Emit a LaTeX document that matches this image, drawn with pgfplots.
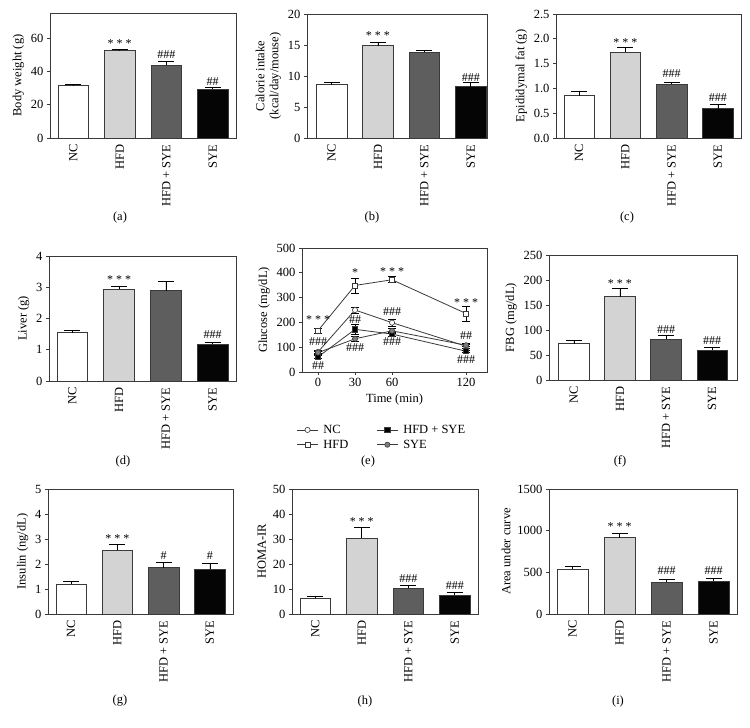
\documentclass[border=0pt]{standalone}
\usepackage{pgfplots}
\pgfplotsset{compat=1.18}
\usepackage{fontspec}
\setmainfont{Liberation Serif}

\definecolor{fillNC}{HTML}{FFFFFF}
\definecolor{fillHFD}{HTML}{D3D3D3}
\definecolor{fillMIX}{HTML}{5E5E5E}
\definecolor{fillSYE}{HTML}{050505}
\definecolor{edge}{HTML}{3A3A3A}

\pgfplotsset{
  panel/.style={
    scale only axis,
    axis line style={edge, line width=0.8pt},
    tick align=outside, tick pos=left,
    major tick length=3pt,
    tick style={edge, line width=0.7pt},
    tick label style={font=\fontsize{12.5}{14}\selectfont},
    label style={font=\fontsize{12.5}{14}\selectfont},
    /pgf/number format/assume math mode=true,
    ymin=0,
    scaled y ticks=false,
    yticklabel style={/pgf/number format/1000 sep={}},
    clip=false,
  },
  barpanel/.style={
    panel,
    xmin=-0.5, xmax=3.5,
    xtick={0,1,2,3},
    xticklabels={NC,HFD,HFD + SYE,SYE},
    xticklabel style={rotate=90, anchor=east},
    major x tick style={draw=none},
    bar width=0.66,
  },
  bar/.style={ybar, bar shift=0pt, draw=edge, line width=0.7pt, fill=#1,
    error bars/.cd, y dir=plus, y explicit, error mark=|,
    error bar style={black, line width=0.7pt},
    error mark options={black, line width=0.7pt, mark size=8pt}},
  sig/.style={draw=none, mark=none, nodes near coords, point meta=explicit symbolic,
    every node near coord/.append style={anchor=center, inner sep=0pt,
      font=\fontsize{12}{13}\selectfont, black}},
  gline/.style={edge, line width=0.8pt, mark size=2.6pt,
    mark options={solid, draw=edge, line width=0.6pt, fill=#1},
    error bars/.cd, y dir=both, y explicit, error mark=|,
    error bar style={black, line width=0.6pt},
    error mark options={black, line width=0.6pt, mark size=4pt}},
}

\begin{document}
\begin{tikzpicture}
\useasboundingbox (0pt,0pt) rectangle (750pt,-728pt);

% (a) body weight
\begin{axis}[barpanel, at={(50pt,-138pt)}, anchor=south west,
  width=186pt, height=125pt, ymax=75, ytick={0,20,40,60},
  ylabel={Body weight (g)}]
\addplot[bar=fillNC] coordinates {(0,31.5) +- (0,0.6)};
\addplot[bar=fillHFD] coordinates {(1,52.4) +- (0,0.6)};
\addplot[bar=fillMIX] coordinates {(2,43.6) +- (0,2.6)};
\addplot[bar=fillSYE] coordinates {(3,29.4) +- (0,0.8)};
\addplot[sig] coordinates {(1,56.6)[* * *] (2,50)[\#\#\#] (3,34)[\#\#]};
\end{axis}

% (b) calorie intake
\begin{axis}[barpanel, at={(307pt,-138pt)}, anchor=south west,
  width=180pt, height=124pt, xmin=-0.53, xmax=3.35, ymax=20, ytick={0,5,10,15,20},
  ylabel={Calorie intake\\(kcal/day/mouse)}, ylabel style={align=center}]
\addplot[bar=fillNC] coordinates {(0,8.6) +- (0,0.35)};
\addplot[bar=fillHFD] coordinates {(1,14.9) +- (0,0.55)};
\addplot[bar=fillMIX] coordinates {(2,13.8) +- (0,0.35)};
\addplot[bar=fillSYE] coordinates {(3,8.3) +- (0,0.7)};
\addplot[sig] coordinates {(1,16.5)[* * *] (3,9.8)[\#\#\#]};
\end{axis}

% (c) epididymal fat
\begin{axis}[barpanel, at={(556pt,-138pt)}, anchor=south west,
  width=185pt, height=124pt, ymax=2.5, ytick={0,0.5,1,1.5,2,2.5},
  yticklabel style={/pgf/number format/.cd, fixed, fixed zerofill, precision=1},
  ylabel={Epididymal fat (g)}]
\addplot[bar=fillNC] coordinates {(0,0.85) +- (0,0.09)};
\addplot[bar=fillHFD] coordinates {(1,1.73) +- (0,0.10)};
\addplot[bar=fillMIX] coordinates {(2,1.08) +- (0,0.05)};
\addplot[bar=fillSYE] coordinates {(3,0.59) +- (0,0.09)};
\addplot[sig] coordinates {(1,1.92)[* * *] (2,1.29)[\#\#\#] (3,0.81)[\#\#\#]};
\end{axis}

% (d) liver
\begin{axis}[barpanel, at={(49pt,-381pt)}, anchor=south west,
  width=187pt, height=125pt, ymax=4, ytick={0,1,2,3,4},
  ylabel={Liver (g)}]
\addplot[bar=fillNC] coordinates {(0,1.55) +- (0,0.07)};
\addplot[bar=fillHFD] coordinates {(1,2.93) +- (0,0.11)};
\addplot[bar=fillMIX] coordinates {(2,2.89) +- (0,0.31)};
\addplot[bar=fillSYE] coordinates {(3,1.17) +- (0,0.06)};
\addplot[sig] coordinates {(1,3.24)[* * *] (3,1.48)[\#\#\#]};
\end{axis}

% (e) glucose tolerance
\begin{axis}[panel, at={(302pt,-372pt)}, anchor=south west,
  width=185pt, height=124pt, xmin=-13, xmax=137, ymax=500,
  xtick={0,30,60,120}, ytick={0,100,200,300,400,500},
  xlabel={Time (min)}, ylabel={Glucose (mg/dL)},
  legend columns=2, legend cell align=left,
  legend style={draw=none, fill=none, inner sep=0pt, at={(-0.03,-0.41)}, anchor=north west,
    font=\fontsize{12.5}{14}\selectfont, row sep=1pt,
    /tikz/every odd column/.append style={column sep=3pt},
    /tikz/every even column/.append style={column sep=26pt}},
  legend image code/.code={\draw[mark repeat=2, mark phase=2, #1] plot coordinates {(0pt,0pt) (10.5pt,0pt) (21pt,0pt)};}]
\addplot[mark=*, gline=white] coordinates {
  (0,81) +- (0,6) (30,250) +- (0,12) (60,199) +- (0,15) (120,104) +- (0,8)};
\addlegendentry{NC}
\addplot[mark=square*, gline=black] coordinates {
  (0,61) +- (0,5) (30,172) +- (0,20) (60,153) +- (0,8) (120,84) +- (0,5)};
\addlegendentry{HFD + SYE}
\addplot[mark=square*, gline=white] coordinates {
  (0,167) +- (0,10) (30,349) +- (0,30) (60,372) +- (0,12) (120,236) +- (0,30)};
\addlegendentry{HFD}
\addplot[mark=*, gline=fillMIX!80] coordinates {
  (0,78) +- (0,5) (30,134) +- (0,10) (60,166) +- (0,10) (120,108) +- (0,6)};
\addlegendentry{SYE}
\addplot[sig, forget plot] coordinates {
  (0,213)[* * *] (0,122)[\#\#\#] (0,27)[\#\#]
  (30,400)[*] (30,210)[\#\#] (30,99)[\#\#\#]
  (60,405)[* * *] (60,243)[\#\#\#] (60,122)[\#\#\#]
  (120,280)[* * *] (120,146)[\#\#] (120,51)[\#\#\#]};
\end{axis}

% (f) FBG
\begin{axis}[barpanel, at={(549pt,-380pt)}, anchor=south west,
  width=188pt, height=125pt, xmin=-0.54, xmax=3.54, ymax=250, ytick={0,50,100,150,200,250},
  ylabel={FBG (mg/dL)}]
\addplot[bar=fillNC] coordinates {(0,73) +- (0,6)};
\addplot[bar=fillHFD] coordinates {(1,167) +- (0,16)};
\addplot[bar=fillMIX] coordinates {(2,82) +- (0,7)};
\addplot[bar=fillSYE] coordinates {(3,60) +- (0,5)};
\addplot[sig] coordinates {(1,193)[* * *] (2,100)[\#\#\#] (3,79)[\#\#\#]};
\end{axis}

% (g) insulin
\begin{axis}[barpanel, at={(48pt,-614pt)}, anchor=south west,
  width=185pt, height=125pt, ymax=5, ytick={0,1,2,3,4,5},
  ylabel={Insulin (ng/dL)}]
\addplot[bar=fillNC] coordinates {(0,1.19) +- (0,0.10)};
\addplot[bar=fillHFD] coordinates {(1,2.56) +- (0,0.24)};
\addplot[bar=fillMIX] coordinates {(2,1.85) +- (0,0.23)};
\addplot[bar=fillSYE] coordinates {(3,1.79) +- (0,0.25)};
\addplot[sig] coordinates {(1,3.0)[* * *] (2,2.33)[\#] (3,2.33)[\#]};
\end{axis}

% (h) HOMA-IR
\begin{axis}[barpanel, at={(292pt,-614pt)}, anchor=south west,
  width=186pt, height=125pt, ymax=50, ytick={0,10,20,30,40,50},
  ylabel={HOMA-IR}]
\addplot[bar=fillNC] coordinates {(0,6.3) +- (0,0.6)};
\addplot[bar=fillHFD] coordinates {(1,30.4) +- (0,4.4)};
\addplot[bar=fillMIX] coordinates {(2,10.4) +- (0,0.9)};
\addplot[bar=fillSYE] coordinates {(3,7.6) +- (0,1.1)};
\addplot[sig] coordinates {(1,36.8)[* * *] (2,14.1)[\#\#\#] (3,11.3)[\#\#\#]};
\end{axis}

% (i) area under curve
\begin{axis}[barpanel, at={(549pt,-614pt)}, anchor=south west,
  width=188pt, height=125pt, ymax=1500, ytick={0,500,1000,1500},
  ylabel={Area under curve}]
\addplot[bar=fillNC] coordinates {(0,540) +- (0,36)};
\addplot[bar=fillHFD] coordinates {(1,916) +- (0,56)};
\addplot[bar=fillMIX] coordinates {(2,384) +- (0,36)};
\addplot[bar=fillSYE] coordinates {(3,396) +- (0,32)};
\addplot[sig] coordinates {(1,1052)[* * *] (2,516)[\#\#\#] (3,516)[\#\#\#]};
\end{axis}

\begin{scope}[every node/.style={font=\fontsize{12.5}{14}\selectfont}]
\node at (120pt,-217pt) {(a)};
\node at (372pt,-217pt) {(b)};
\node at (627pt,-217pt) {(c)};
\node at (123pt,-461pt) {(d)};
\node at (368pt,-461pt) {(e)};
\node at (620pt,-461pt) {(f)};
\node at (120pt,-701pt) {(g)};
\node at (365pt,-701pt) {(h)};
\node at (618pt,-701pt) {(i)};
\end{scope}
\end{tikzpicture}
\end{document}
